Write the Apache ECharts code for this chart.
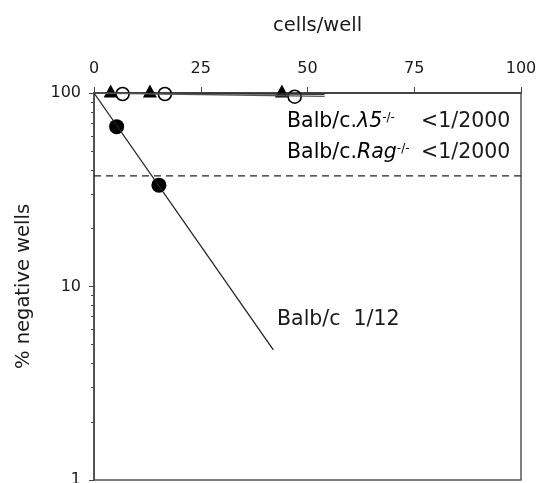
<!DOCTYPE html>
<html>
<head>
<meta charset="utf-8">
<script src="https://cdn.jsdelivr.net/npm/echarts@6/dist/echarts.min.js"></script>
<style>html,body{margin:0;padding:0;background:#fff;}#c{width:537px;height:483px;}</style>
</head>
<body>
<div id="c"></div>
<script>
// ---- data ----
var xTicks = [0, 25, 50, 75, 100];
var yTicks = [1, 10, 100];
var yMinorTicks = [2, 3, 4, 5, 6, 7, 8, 9, 20, 30, 40, 50, 60, 70, 80, 90];
var balbPoints = [[5.3, 67], [15.2, 33.4]];
var balbFit = [[0, 100], [42, 4.7]];
var lambda5Points = [[3.9, 100], [13.1, 100], [44, 100]];
var lambda5Fit = [[0, 100], [54, 98.5]];
var ragPoints = [[6.7, 98.8], [16.6, 98.8], [47, 95.7]];
var ragFit = [[0, 100], [54, 96]];
var thresholdLine = [[0, 37.3], [100, 37.3]];
var xName = 'cells/well';
var yName = '% negative wells';

var FONT = 'DejaVu Sans';
var chart = echarts.init(document.getElementById('c'), null, {renderer: 'canvas'});

var baseRich = {
  r: {fontFamily: FONT, fontSize: 20.5, color: '#1a1a1a'},
  i: {fontFamily: FONT, fontSize: 20.5, fontStyle: 'italic', color: '#1a1a1a'},
  s: {fontFamily: FONT, fontSize: 12, color: '#1a1a1a', verticalAlign: 'top', lineHeight: 12}
};
var plainFont = '20.5px "DejaVu Sans"';

chart.setOption({
  animation: false,
  backgroundColor: '#fff',
  title: {
    text: xName, left: 268, top: 11,
    textStyle: {fontFamily: FONT, fontSize: 19.5, fontWeight: 'normal', color: '#1a1a1a'}
  },
  grid: {left: 94, right: 16, top: 93, bottom: 3, show: true, borderColor: '#555', borderWidth: 1.5,
         containLabel: false, outerBoundsMode: 'none'},
  xAxis: {
    type: 'value', position: 'top',
    min: xTicks[0], max: xTicks[xTicks.length - 1], interval: xTicks[1] - xTicks[0],
    axisLine: {show: true, onZero: false, lineStyle: {color: '#333', width: 1.5}},
    axisTick: {show: true, inside: false, length: 6, lineStyle: {color: '#444', width: 1}},
    axisLabel: {fontFamily: FONT, fontSize: 16, color: '#1a1a1a', margin: 16},
    splitLine: {show: false}
  },
  yAxis: [{
    type: 'log', logBase: 10, min: yTicks[0], max: yTicks[yTicks.length - 1],
    name: yName, nameLocation: 'middle', nameGap: 60,
    nameTextStyle: {fontFamily: FONT, fontSize: 19.5, color: '#1a1a1a'},
    axisLine: {show: true, onZero: false, lineStyle: {color: '#444', width: 1.5}},
    axisTick: {show: true, length: 5, customValues: yTicks, lineStyle: {color: '#444', width: 1}},
    axisLabel: {fontFamily: FONT, fontSize: 16, color: '#1a1a1a', margin: 13, customValues: yTicks},
    splitLine: {show: false}
  }, {
    type: 'log', logBase: 10, min: yTicks[0], max: yTicks[yTicks.length - 1],
    position: 'left',
    axisLine: {show: false},
    axisTick: {show: true, length: 3, customValues: yMinorTicks, lineStyle: {color: '#444', width: 1}},
    axisLabel: {show: false},
    splitLine: {show: false}
  }],
  series: [
    {type: 'line', data: thresholdLine, symbol: 'none', lineStyle: {color: '#222', width: 1.3, type: [7, 5]}, silent: true},
    {type: 'line', data: balbFit, symbol: 'none', lineStyle: {color: '#222', width: 1.3}, silent: true},
    {type: 'line', data: lambda5Fit, symbol: 'none', lineStyle: {color: '#333', width: 1.5}, silent: true},
    {type: 'line', data: ragFit, symbol: 'none', lineStyle: {color: '#555', width: 1.3}, silent: true},
    {type: 'scatter', data: balbPoints, symbol: 'circle', symbolSize: 15, clip: false, itemStyle: {color: '#000', opacity: 1}},
    {type: 'scatter', data: lambda5Points, symbol: 'triangle', symbolSize: [14, 13], symbolOffset: [0, -2], clip: false, itemStyle: {color: '#000', opacity: 1}},
    {type: 'scatter', data: ragPoints, symbol: 'circle', symbolSize: 13, clip: false, itemStyle: {color: 'rgba(0,0,0,0)', borderColor: '#000', borderWidth: 1.6, opacity: 1}}
  ],
  graphic: [
    {type: 'text', x: 287, y: 122, style: {text: '{r|Balb/c.}{i|λ5}{s|-/-}', rich: baseRich, verticalAlign: 'middle'}},
    {type: 'text', x: 421, y: 122, style: {text: '<1/2000', font: plainFont, fill: '#1a1a1a', verticalAlign: 'middle'}},
    {type: 'text', x: 287, y: 153, style: {text: '{r|Balb/c.}{i|Rag}{s|-/-}', rich: baseRich, verticalAlign: 'middle'}},
    {type: 'text', x: 421, y: 153, style: {text: '<1/2000', font: plainFont, fill: '#1a1a1a', verticalAlign: 'middle'}},
    {type: 'text', x: 277, y: 320, style: {text: 'Balb/c  1/12', font: plainFont, fill: '#1a1a1a', verticalAlign: 'middle'}}
  ]
});
</script>
</body>
</html>
